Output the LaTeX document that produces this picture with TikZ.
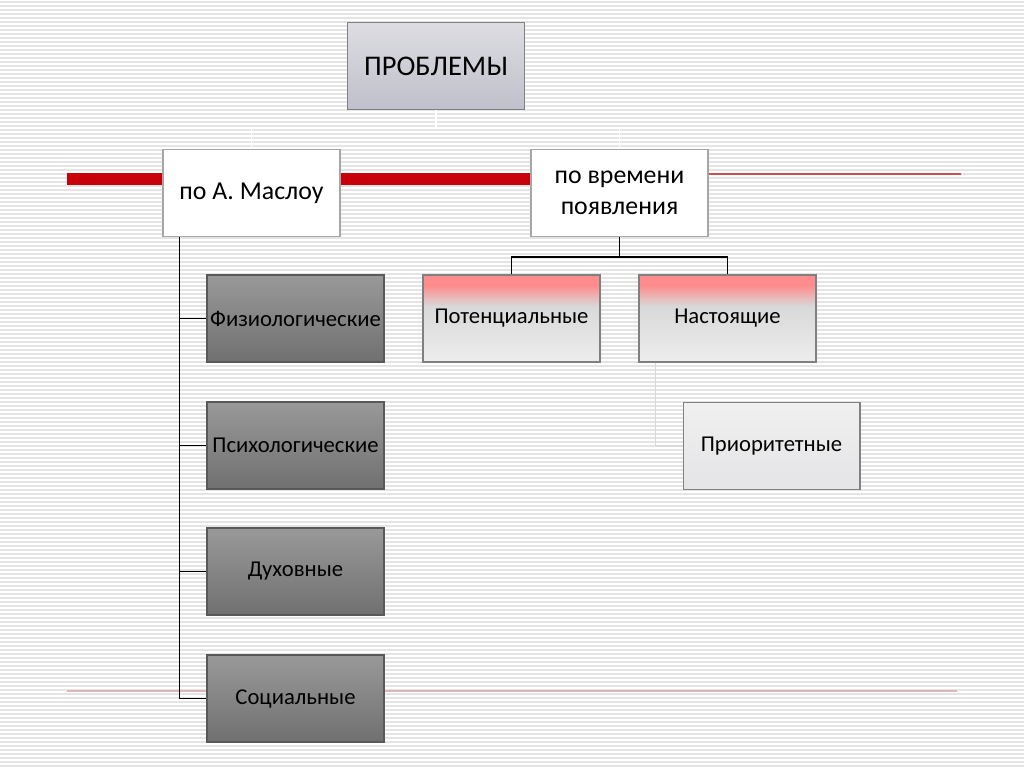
\documentclass[tikz,border=0pt]{standalone}
\usepackage{fontspec}
\setmainfont{Carlito}
\definecolor{stripegray}{HTML}{E4E4E4}
\definecolor{bandred}{HTML}{C8000A}
\definecolor{thinred}{HTML}{C85050}
\definecolor{paleline}{HTML}{DDB6BA}
\definecolor{boxborder}{HTML}{808080}
\pgfdeclareverticalshading{pinkfade}{100bp}{color(0bp)=(gray!14); color(25bp)=(gray!14); color(57bp)=(gray!30); color(69bp)=(red!45!white); color(100bp)=(red!45!white)}
\tikzset{
  box/.style={rectangle, draw=boxborder, line width=0.6pt, minimum width=3.54cm, minimum height=1.74cm, inner sep=0pt, align=center, font=\fontsize{12.9}{15}\selectfont},
  topbox/.style={box, top color=blue!8!gray!25, bottom color=blue!10!gray!45, font=\fontsize{16.2}{19}\selectfont},
  catbox/.style={box, fill=white, draw=gray!70, font=\fontsize{14.7}{17.5}\selectfont},
  darkbox/.style={box, draw=black!65, top color=black!40, bottom color=black!56},
  pinkbox/.style={box, shading=pinkfade},
  priobox/.style={box, top color=gray!12, bottom color=blue!5!gray!20},
  tree/.style={black, line width=0.8pt},
  faint/.style={gray!30, line width=0.8pt},
  ghost/.style={white, line width=1pt}
}
\begin{document}
\begin{tikzpicture}[x=0.02cm, y=-0.02cm]
  \useasboundingbox (0,0) rectangle (1024,767);
  \fill[white] (0,0) rectangle (1024,767);
  \foreach \i in {0,...,191}
    \fill[stripegray] (0,4*\i+1) rectangle (1024,4*\i+3);

  \draw[bandred, line width=0.24cm] (67,179) -- (530,179);
  \draw[thinred, line width=1pt] (708,174) -- (961,174);
  \draw[paleline, line width=1.5pt] (67,691) -- (957,691);

  \node[topbox] (problems) at (436,66) {ПРОБЛЕМЫ};
  \node[catbox] (maslow) at (251.5,193) {по А. Маслоу};
  \node[catbox] (time) at (619.5,193) {по времени\\появления};

  \node[darkbox] (fiz) at (295.5,318.5) {Физиологические};
  \node[darkbox] (psy) at (295.5,445.5) {Психологические};
  \node[darkbox] (spirit) at (295.5,571.5) {Духовные};
  \node[darkbox] (soc) at (295.5,698.5) {Социальные};

  \node[pinkbox] (potential) at (511.5,318.5) {Потенциальные};
  \node[pinkbox] (present) at (727.5,318.5) {Настоящие};
  \node[priobox] (priority) at (771.5,446) {Приоритетные};

  \draw[ghost] (problems.south) -- ++(0,18) -| (maslow.north);
  \draw[ghost] (problems.south) -- ++(0,18) -| (time.north);

  \coordinate (trunk) at ([xshift=0.34cm]maslow.south west);
  \foreach \b in {fiz,psy,spirit,soc}
    \draw[tree] (trunk) |- (\b.west);

  \draw[tree] (time.south) -- ++(0,20) -| (potential.north);
  \draw[tree] (time.south) -- ++(0,20) -| (present.north);

  \draw[faint] ([xshift=0.34cm]present.south west) |- (priority.west);
\end{tikzpicture}
\end{document}
